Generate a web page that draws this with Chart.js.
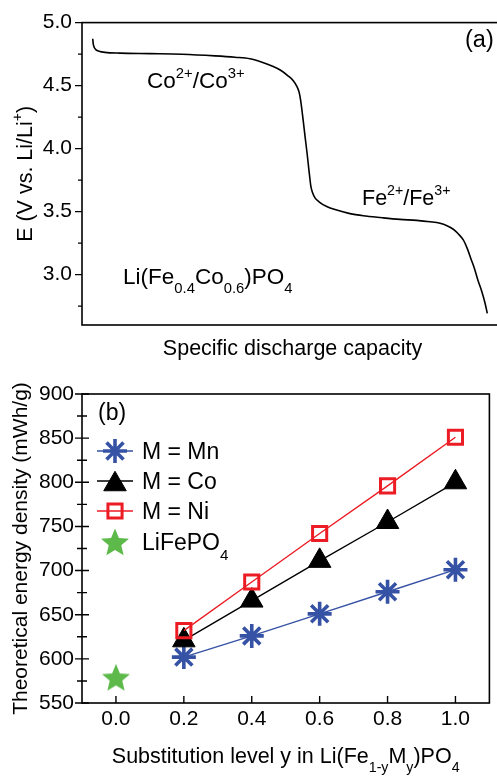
<!DOCTYPE html>
<html>
<head>
<meta charset="utf-8">
<script src="https://cdn.jsdelivr.net/npm/chart.js@4.4.1/dist/chart.umd.min.js"></script>
<style>
  html, body { margin: 0; padding: 0; background: #fff; overflow: hidden; width: 497px; height: 776px; }
  canvas { position: absolute; left: 0; }
  #discharge { top: 0; }
  #energy { top: 370px; }
</style>
</head>
<body>
<canvas id="discharge" width="505" height="370"></canvas>
<canvas id="energy" width="505" height="406"></canvas>
<script>
// ---- (a) discharge curve of Li(Fe0.4Co0.6)PO4 ----
const capacity = [4.07, 4.29, 4.67, 5.32, 6.46, 8.74, 14.44, 25.84, 38.00, 50.55, 58.15, 63.85, 68.41, 72.21,
  75.63, 78.29, 80.30, 81.71, 82.58, 83.11, 83.61, 84.18, 84.83, 85.51, 86.08, 86.54, 86.95, 87.60, 88.55,
  90.07, 93.00, 96.80, 101.85, 107.93, 114.51, 120.85, 127.20, 132.25, 136.05, 138.71, 141.11, 142.89,
  144.91, 146.51, 147.84, 149.17, 150.50, 151.91, 153.16, 154.04];
const voltage = [4.872, 4.829, 4.802, 4.784, 4.773, 4.764, 4.758, 4.754, 4.749, 4.736, 4.725, 4.713, 4.686,
  4.655, 4.620, 4.578, 4.539, 4.492, 4.442, 4.380, 4.302, 4.202, 4.085, 3.969, 3.860, 3.775, 3.705, 3.651,
  3.609, 3.578, 3.540, 3.512, 3.484, 3.465, 3.450, 3.438, 3.430, 3.419, 3.407, 3.388, 3.360, 3.326, 3.275,
  3.202, 3.124, 3.047, 2.953, 2.868, 2.775, 2.692];
const voltageTicks = [3.0, 3.5, 4.0, 4.5, 5.0];
const voltageMinorTicks = [2.75, 3.25, 3.75, 4.25, 4.75];

// ---- (b) theoretical energy density vs substitution level ----
const substitution = [0.2, 0.4, 0.6, 0.8, 1.0];
const energyMn = [602, 626, 651, 676, 701];
const energyCo = [621, 666, 711, 755, 800];
const energyNi = [632, 687, 742, 796, 851];
const pristineLevel = [0.0];
const energyLiFePO4 = [579];
const substitutionTicks = [0.0, 0.2, 0.4, 0.6, 0.8, 1.0];
const energyTicks = [550, 600, 650, 700, 750, 800, 850, 900];
const energyMinorTicks = [575, 625, 675, 725, 775, 825, 875];

const FONT = '"Liberation Sans", Arial, Helvetica, sans-serif';
const BLUE = '#3652a5', RED = '#ec1c24', GREEN = '#5cb94a';

// text with superscripts / subscripts: parts = [[text, 'sup'|'sub'|'']]
function drawRich(ctx, parts, x, y, size, align, angle) {
  const small = size * 0.66;
  const seg = parts.map(([t, k]) => {
    const fs = k ? small : size;
    ctx.font = fs + 'px ' + FONT;
    return { t, k, fs, w: ctx.measureText(t).width };
  });
  const total = seg.reduce((s, p) => s + p.w, 0);
  ctx.save();
  ctx.translate(x, y);
  if (angle) ctx.rotate(angle);
  let cx = align === 'center' ? -total / 2 : (align === 'right' ? -total : 0);
  ctx.textAlign = 'left';
  ctx.textBaseline = 'alphabetic';
  ctx.fillStyle = '#000';
  for (const p of seg) {
    ctx.font = p.fs + 'px ' + FONT;
    const dy = p.k === 'sup' ? -size * 0.45 : (p.k === 'sub' ? size * 0.42 : 0);
    ctx.fillText(p.t, cx, dy);
    cx += p.w;
  }
  ctx.restore();
}

// chemical label -> digits after letters / ')' become subscripts
function formulaParts(label) {
  const out = [];
  let i = 0;
  while (i < label.length) {
    const ch = label[i];
    if (/\d/.test(ch) && i > 0 && /[A-Za-z)]/.test(label[i - 1])) {
      let j = i;
      while (j < label.length && /[\d.]/.test(label[j])) j++;
      out.push([label.slice(i, j), 'sub']);
      i = j;
    } else {
      let j = i + 1;
      while (j < label.length && !(/\d/.test(label[j]) && /[A-Za-z)]/.test(label[j - 1]))) j++;
      out.push([label.slice(i, j), '']);
      i = j;
    }
  }
  return out;
}

// frame around the plot plus tick marks (out / in lengths per axis)
function framePlugin(cfg) {
  return {
    id: 'frame',
    afterDraw(chart) {
      const { ctx, chartArea: a, scales } = chart;
      ctx.save();
      ctx.strokeStyle = '#000';
      ctx.lineWidth = 1.6;
      ctx.strokeRect(a.left, a.top, a.right - a.left, a.bottom - a.top);
      ctx.lineWidth = 1.4;
      ctx.beginPath();
      const yTick = (vals, out, inn) => vals.forEach(v => {
        const py = scales.y.getPixelForValue(v);
        ctx.moveTo(a.left - out, py); ctx.lineTo(a.left + inn, py);
      });
      const xTick = (vals, out, inn) => vals.forEach(v => {
        const px = scales.x.getPixelForValue(v);
        ctx.moveTo(px, a.bottom + out); ctx.lineTo(px, a.bottom - inn);
      });
      yTick(cfg.yMajor || [], cfg.yMajorOut || 0, cfg.yMajorIn || 0);
      yTick(cfg.yMinor || [], cfg.yMinorOut || 0, cfg.yMinorIn || 0);
      xTick(cfg.xMajor || [], cfg.xMajorOut || 0, cfg.xMajorIn || 0);
      ctx.stroke();
      ctx.restore();
    }
  };
}

function textPlugin(draw) {
  return { id: 'texts', afterDraw(chart) { draw(chart.ctx, chart); } };
}

const baseOpts = {
  responsive: false,
  animation: false,
  events: [],
  devicePixelRatio: 1,
};

// ---------- panel (a) ----------
new Chart(document.getElementById('discharge'), {
  type: 'line',
  data: {
    datasets: [{
      data: capacity.map((c, i) => ({ x: c, y: voltage[i] })),
      borderColor: '#000',
      borderWidth: 1.6,
      pointRadius: 0,
      cubicInterpolationMode: 'monotone',
      fill: false
    }]
  },
  options: {
    ...baseOpts,
    layout: { padding: { top: 15, bottom: 45, left: 0, right: 2 } },
    plugins: { legend: { display: false }, tooltip: { enabled: false } },
    scales: {
      x: { type: 'linear', min: 0, max: 160, display: false },
      y: {
        type: 'linear', min: 2.6, max: 5.0,
        afterBuildTicks: s => { s.ticks = voltageTicks.map(v => ({ value: v })); },
        afterFit: s => { s.width = 82; },
        grid: { display: false, drawTicks: false },
        border: { display: false },
        ticks: { color: '#000', padding: 10, font: { family: FONT, size: 21 }, callback: v => Number(v).toFixed(1) }
      }
    }
  },
  plugins: [
    framePlugin({ yMajor: voltageTicks, yMajorOut: 7, yMinor: voltageMinorTicks, yMinorOut: 4 }),
    textPlugin((ctx, chart) => {
      const a = chart.chartArea;
      drawRich(ctx, [['E (V vs. Li/Li', ''], ['+', 'sup'], [')', '']], 32, (a.top + a.bottom) / 2, 21.5, 'center', -Math.PI / 2);
      drawRich(ctx, [['Specific discharge capacity', '']], (a.left + a.right) / 2, 355, 21.5, 'center');
      drawRich(ctx, [['Co', ''], ['2+', 'sup'], ['/Co', ''], ['3+', 'sup']], 147, 88, 22.5, 'left');
      drawRich(ctx, [['Fe', ''], ['2+', 'sup'], ['/Fe', ''], ['3+', 'sup']], 362, 205, 21.5, 'left');
      drawRich(ctx, [['Li(Fe', ''], ['0.4', 'sub'], ['Co', ''], ['0.6', 'sub'], [')PO', ''], ['4', 'sub']], 123, 283.5, 22.5, 'left');
      drawRich(ctx, [['(a)', '']], 465, 46.7, 23.5, 'left');
    })
  ]
});

// ---------- panel (b) ----------
// filled five-point star marker for LiFePO4
const starMarker = (() => {
  const c = document.createElement('canvas');
  c.width = 32; c.height = 32;
  const g = c.getContext('2d');
  const cx = 16, cy = 17.3, R = 14.7, r = 6.6;
  g.beginPath();
  for (let i = 0; i < 10; i++) {
    const ang = -Math.PI / 2 + i * Math.PI / 5;
    const rad = i % 2 === 0 ? R : r;
    const px = cx + rad * Math.cos(ang), py = cy + rad * Math.sin(ang);
    if (i === 0) g.moveTo(px, py); else g.lineTo(px, py);
  }
  g.closePath();
  g.fillStyle = GREEN;
  g.fill();
  return c;
})();

const xy = (xs, ys) => xs.map((x, i) => ({ x, y: ys[i] }));

const energyDatasets = [
  { label: 'M = Mn', data: xy(substitution, energyMn), order: 2,
    borderColor: BLUE, borderWidth: 1.4, pointStyle: 'star', pointRadius: 12,
    pointBorderColor: BLUE, pointBackgroundColor: BLUE, pointBorderWidth: 3.6 },
  { label: 'M = Co', data: xy(substitution, energyCo), order: 1,
    borderColor: '#000', borderWidth: 1.4, pointStyle: 'triangle', pointRadius: 13,
    pointBorderColor: '#000', pointBackgroundColor: '#000', pointBorderWidth: 1 },
  { label: 'M = Ni', data: xy(substitution, energyNi), order: 0,
    borderColor: RED, borderWidth: 1.4, pointStyle: 'rect', pointRadius: 10,
    pointBorderColor: RED, pointBackgroundColor: 'rgba(0,0,0,0)', pointBorderWidth: 3 },
  { label: 'LiFePO4', data: xy(pristineLevel, energyLiFePO4), order: 3, showLine: false,
    borderColor: GREEN, borderWidth: 0, pointStyle: starMarker, pointRadius: 15,
    pointBorderColor: GREEN, pointBackgroundColor: GREEN, pointBorderWidth: 0 }
];

function drawMarker(ctx, ds, x, y) {
  ctx.save();
  ctx.fillStyle = ds.pointBackgroundColor;
  ctx.strokeStyle = ds.pointBorderColor;
  ctx.lineWidth = ds.pointBorderWidth;
  const h = Chart.helpers;
  if (h && h.drawPoint) {
    h.drawPoint(ctx, { pointStyle: ds.pointStyle, radius: ds.pointRadius, rotation: 0, borderWidth: ds.pointBorderWidth }, x, y);
  } else if (ds.pointStyle instanceof HTMLCanvasElement) {
    ctx.drawImage(ds.pointStyle, x - ds.pointStyle.width / 2, y - ds.pointStyle.height / 2);
  }
  ctx.restore();
}

const legendRows = [81, 111, 141, 172];

new Chart(document.getElementById('energy'), {
  type: 'line',
  data: { datasets: energyDatasets },
  options: {
    ...baseOpts,
    layout: { padding: { top: 24, bottom: 0, left: 0, right: 2 } },
    plugins: { legend: { display: false }, tooltip: { enabled: false } },
    scales: {
      x: {
        type: 'linear', min: -0.1, max: 1.1,
        afterBuildTicks: s => { s.ticks = substitutionTicks.map(v => ({ value: v })); },
        afterFit: s => { s.height = 73; },
        grid: { display: false, drawTicks: false },
        border: { display: false },
        ticks: { color: '#000', padding: 4, maxRotation: 0, font: { family: FONT, size: 21 }, callback: v => Number(v).toFixed(1) }
      },
      y: {
        type: 'linear', min: 550, max: 900,
        afterBuildTicks: s => { s.ticks = energyTicks.map(v => ({ value: v })); },
        afterFit: s => { s.width = 82; },
        grid: { display: false, drawTicks: false },
        border: { display: false },
        ticks: { color: '#000', padding: 8, font: { family: FONT, size: 21 }, callback: v => String(v) }
      }
    }
  },
  plugins: [
    framePlugin({
      yMajor: energyTicks, yMajorOut: 7, yMajorIn: 7,
      yMinor: energyMinorTicks, yMinorOut: 5, yMinorIn: 5,
      xMajor: substitutionTicks, xMajorIn: 7
    }),
    textPlugin((ctx, chart) => {
      const a = chart.chartArea;
      drawRich(ctx, [['Theoretical energy density (mWh/g)', '']], 27, (a.top + a.bottom) / 2, 21, 'center', -Math.PI / 2);
      drawRich(ctx, [['Substitution level y in Li(Fe', ''], ['1-y', 'sub'], ['M', ''], ['y', 'sub'], [')PO', ''], ['4', 'sub']],
        (a.left + a.right) / 2, 393, 21.5, 'center');
      drawRich(ctx, [['(b)', '']], 98, 50, 23, 'left');
      // legend: line sample + marker + label
      chart.data.datasets.forEach((ds, i) => {
        const cy = legendRows[i];
        if (ds.showLine !== false) {
          ctx.save();
          ctx.strokeStyle = ds.borderColor;
          ctx.lineWidth = ds.borderWidth;
          ctx.beginPath(); ctx.moveTo(97, cy); ctx.lineTo(133, cy); ctx.stroke();
          ctx.restore();
        }
        const my = ds.pointStyle === 'triangle' ? cy + ds.pointRadius * 0.25 : cy;
        drawMarker(ctx, ds, 115, my);
        drawRich(ctx, formulaParts(ds.label), 142, cy + 8, 23, 'left');
      });
    })
  ]
});
</script>
</body>
</html>
